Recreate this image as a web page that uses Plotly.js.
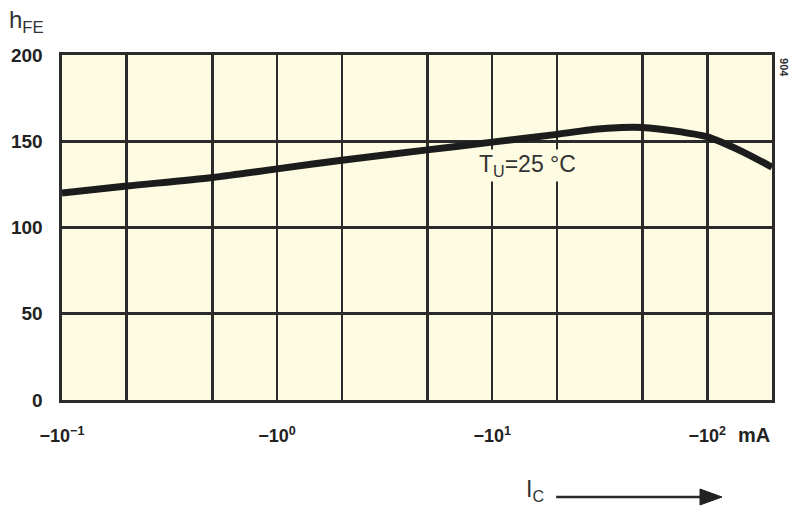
<!DOCTYPE html>
<html>
<head>
<meta charset="utf-8">
<script src="https://cdn.plot.ly/plotly-3.0.1.min.js"></script>
<style>html,body{margin:0;padding:0;background:#ffffff;}#chart{width:792px;height:514px;}</style>
</head>
<body>
<div id="chart"></div>
<script>
// Collector current |I_C| in mA (drawn as negative values on the labels)
var currentMA = [0.1, 0.2, 0.5, 1, 2, 5, 10, 20, 30, 40, 50, 70, 100, 140, 200];
// Current gain h_FE at T_U = 25 °C
var hFE = [120, 124, 129, 134, 139, 145, 149.5, 154, 157, 158, 158, 156, 152.5, 145, 135];

// decade ticks on the log axis (minor grid lines at 2 and 5 of each decade)
var xTickVals = [0.1, 1, 10, 100];
var xTickText = ['\u221210<sup>\u22121</sup>', '\u221210<sup>0</sup>', '\u221210<sup>1</sup>', '\u221210<sup>2</sup>'];
var yTickVals = [0, 50, 100, 150, 200];
var yTickText = ['0', '50', '100', '150', '200'];

var plotBg = '#fdfbe2';
var ink = '#2b2b2b';
var fontFam = 'Liberation Sans Narrow, Liberation Sans, Arial, sans-serif';

var traces = [{
  x: currentMA, y: hFE, type: 'scatter', mode: 'lines',
  line: {color: '#1c1c1c', width: 7, shape: 'spline', smoothing: 0.8},
  hoverinfo: 'skip', showlegend: false
}];

var shapes = [
  {type: 'line', xref: 'paper', yref: 'paper', x0: 0.696, x1: 0.902, y0: -0.2812, y1: -0.2812,
   line: {color: ink, width: 2.6}},
  {type: 'path', xref: 'paper', yref: 'paper',
   path: 'M 0.8986 -0.2580 L 0.9296 -0.2812 L 0.8986 -0.3043 Z',
   fillcolor: '#222', line: {color: '#222', width: 1}}
];

var layout = {
  width: 792, height: 514,
  margin: {l: 62, r: 20, t: 55, b: 114},
  paper_bgcolor: '#ffffff', plot_bgcolor: plotBg,
  font: {family: fontFam, color: ink},
  xaxis: {
    type: 'log', range: [-1, Math.log10(200)],
    tickmode: 'array', tickvals: xTickVals, ticktext: xTickText,
    showgrid: true, gridcolor: ink, gridwidth: 2.6, zeroline: false,
    minor: {dtick: 'D2', showgrid: true, gridcolor: ink, gridwidth: 2.6, ticks: ''},
    showline: true, mirror: true, linecolor: ink, linewidth: 2.6,
    ticks: '', ticklabelstandoff: 18,
    tickfont: {family: 'Liberation Sans, Arial, sans-serif', size: 18, color: '#222', weight: 'bold'}
  },
  yaxis: {
    range: [0, 200], tickmode: 'array', tickvals: yTickVals, ticktext: yTickText,
    showgrid: true, gridcolor: ink, gridwidth: 2.6, zeroline: false,
    showline: true, mirror: true, linecolor: ink, linewidth: 2.6,
    ticks: '', ticklabelstandoff: 13,
    tickfont: {family: 'Liberation Sans, Arial, sans-serif', size: 19, color: '#222', weight: 'bold'}
  },
  shapes: shapes,
  annotations: [
    {xref: 'paper', yref: 'paper', x: -0.078, y: 1.098, xanchor: 'left', yanchor: 'middle',
     text: 'h<sub>FE</sub>', showarrow: false,
     font: {family: 'Liberation Sans, Arial, sans-serif', size: 24, color: '#333'}},
    {xref: 'x', yref: 'y', x: Math.log10(100), y: 0, xanchor: 'left', yanchor: 'top',
     xshift: 29, yshift: -22, text: 'mA', showarrow: false,
     font: {family: 'Liberation Sans, Arial, sans-serif', size: 20, color: '#222', weight: 'bold'}},
    {xref: 'x', yref: 'y', x: 1.163, y: 136, xanchor: 'center', yanchor: 'middle',
     text: 'T<sub>U</sub>=25 \u00B0C', showarrow: false, bgcolor: plotBg, borderpad: 1,
     font: {family: fontFam, size: 23, color: '#333'}},
    {xref: 'paper', yref: 'paper', x: 0.666, y: -0.262, xanchor: 'center', yanchor: 'middle',
     text: 'I<sub>C</sub>', showarrow: false,
     font: {family: 'Liberation Sans, Arial, sans-serif', size: 23, color: '#333'}},
    {xref: 'paper', yref: 'paper', x: 1.0, y: 0.965, xanchor: 'left', yanchor: 'middle', xshift: 4,
     text: '904', textangle: 90, showarrow: false,
     font: {family: 'Liberation Sans, Arial, sans-serif', size: 11, color: '#333', weight: 'bold'}}
  ]
};

Plotly.newPlot('chart', traces, layout, {staticPlot: true, displayModeBar: false});
</script>
</body>
</html>
